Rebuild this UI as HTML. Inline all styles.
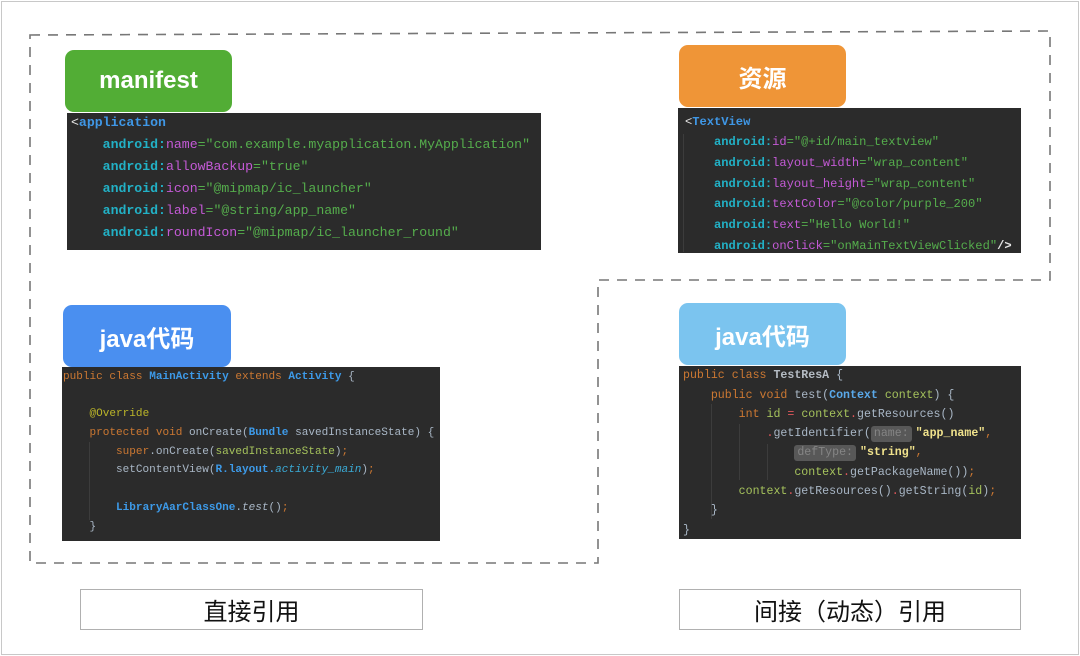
<!DOCTYPE html>
<html>
<head>
<meta charset="utf-8">
<style>
  html,body{margin:0;padding:0;background:#fff;}
  body{width:1080px;height:656px;position:relative;overflow:hidden;font-family:"Liberation Sans","Noto Sans CJK SC",sans-serif;}
  .abs{position:absolute;}
  .code{position:absolute;background:#2b2b2b;}
  pre{position:absolute;margin:0;font-family:"Liberation Mono","DejaVu Sans Mono",monospace;color:#a9b7c6;white-space:pre;}
  .lbl{position:absolute;border-radius:9px;color:#fff;font-weight:bold;font-size:24px;display:flex;align-items:center;justify-content:center;font-family:"Liberation Sans","Noto Sans CJK SC",sans-serif;}
  .cap{position:absolute;border:1px solid #b0b0b0;background:#fff;font-size:24px;color:#111;display:flex;align-items:center;justify-content:center;font-family:"Liberation Sans","Noto Sans CJK SC",sans-serif;}
  /* xml colors */
  .w{color:#e6e6e6}
  .tg{color:#3f97e6;font-weight:bold}
  .an{color:#22b1c6;font-weight:bold}
  .at{color:#c45ad6}
  .v{color:#55ad4c}
  /* java colors */
  .k{color:#cc7832}
  .c{color:#3d9ae8;font-weight:bold}
  .an2{color:#bbb529}
  .g{color:#a5c25c}
  .it{color:#3aa9d4;font-style:italic}
  .iti{font-style:italic}
  .r{color:#e0575b}
  .s{color:#f0e28c;font-weight:bold}
  .h{display:inline-block;background:#585858;color:#858585;border-radius:3px;padding:0 3px;line-height:16px;margin-right:4px;}
  .guide{position:absolute;width:1px;background:#3c3c3c;}
</style>
</head>
<body>
<!-- outer border -->
<div class="abs" style="left:1px;top:1px;width:1076px;height:652px;border:1px solid #c8c8c8;"></div>

<!-- dashed outline -->
<svg class="abs" style="left:0;top:0" width="1080" height="656">
  <polygon points="30,35 1050,31 1050,280 598,280 598,563 30,563" fill="none" stroke="#777" stroke-width="1.6" stroke-dasharray="10 8"/>
</svg>

<!-- manifest -->
<div class="lbl" style="left:65px;top:50px;width:167px;height:62px;background:#52ad35;">manifest</div>
<div class="code" style="left:67px;top:113px;width:474px;height:137px;"></div>
<pre style="left:71px;top:112px;font-size:13.2px;line-height:22px;"><span class="w">&lt;</span><span class="tg">application</span>
    <span class="an">android:</span><span class="at">name</span><span class="v">="com.example.myapplication.MyApplication"</span>
    <span class="an">android:</span><span class="at">allowBackup</span><span class="v">="true"</span>
    <span class="an">android:</span><span class="at">icon</span><span class="v">="@mipmap/ic_launcher"</span>
    <span class="an">android:</span><span class="at">label</span><span class="v">="@string/app_name"</span>
    <span class="an">android:</span><span class="at">roundIcon</span><span class="v">="@mipmap/ic_launcher_round"</span></pre>

<!-- 资源 -->
<div class="lbl" style="left:679px;top:45px;width:167px;height:62px;background:#ef9537;">资源</div>
<div class="code" style="left:678px;top:108px;width:343px;height:145px;"></div>
<div class="guide" style="left:683px;top:134px;height:118px;"></div>
<pre style="left:685px;top:111.7px;font-size:12.1px;line-height:20.67px;"><span class="w">&lt;</span><span class="tg">TextView</span>
    <span class="an">android:</span><span class="at">id</span><span class="v">="@+id/main_textview"</span>
    <span class="an">android:</span><span class="at">layout_width</span><span class="v">="wrap_content"</span>
    <span class="an">android:</span><span class="at">layout_height</span><span class="v">="wrap_content"</span>
    <span class="an">android:</span><span class="at">textColor</span><span class="v">="@color/purple_200"</span>
    <span class="an">android:</span><span class="at">text</span><span class="v">="Hello World!"</span>
    <span class="an">android:</span><span class="at">onClick</span><span class="v">="onMainTextViewClicked"</span><span class="w" style="font-weight:bold">/&gt;</span></pre>

<!-- java left -->
<div class="lbl" style="left:63px;top:305px;width:168px;height:62px;background:#4a8ff0;">java代码</div>
<div class="code" style="left:62px;top:367px;width:378px;height:174px;"></div>
<div class="guide" style="left:89px;top:442px;height:78px;"></div>
<pre style="left:63px;top:367.6px;font-size:11.06px;line-height:18.75px;"><span class="k">public class </span><span class="c">MainActivity</span><span class="k"> extends </span><span class="c">Activity</span> {

    <span class="an2">@Override</span>
    <span class="k">protected void </span>onCreate(<span class="c">Bundle</span> savedInstanceState) {
        <span class="k">super</span>.onCreate(<span class="g">savedInstanceState</span>)<span class="k">;</span>
        setContentView(<span class="c">R.layout.</span><span class="it">activity_main</span>)<span class="k">;</span>

        <span class="c">LibraryAarClassOne</span>.<span class="iti">test</span>()<span class="k">;</span>
    }</pre>

<!-- java right -->
<div class="lbl" style="left:679px;top:303px;width:167px;height:62px;background:#7bc4ef;">java代码</div>
<div class="code" style="left:679px;top:366px;width:342px;height:173px;"></div>
<div class="guide" style="left:711px;top:404px;height:115px;"></div>
<div class="guide" style="left:739px;top:424px;height:56px;"></div>
<div class="guide" style="left:767px;top:444px;height:36px;"></div>
<pre style="left:683px;top:366.3px;font-size:11.6px;line-height:19.3px;"><span class="k">public class </span><span style="color:#b5bcc4;font-weight:bold">TestResA</span> {
    <span class="k">public void </span>test(<span class="c" style="color:#5aa9ea">Context</span> <span class="g">context</span>) {
        <span class="k">int </span><span class="g">id</span> <span class="r">=</span> <span class="g">context</span><span class="r">.</span>getResources()
            <span class="r">.</span>getIdentifier(<span class="h">name:</span><span class="s">"app_name"</span><span class="k">,</span>
                <span class="h">defType:</span><span class="s">"string"</span><span class="k">,</span>
                <span class="g">context</span><span class="r">.</span>getPackageName())<span class="k">;</span>
        <span class="g">context</span><span class="r">.</span>getResources()<span class="r">.</span>getString(<span class="g">id</span>)<span class="k">;</span>
    }
}</pre>

<!-- captions -->
<div class="cap" style="left:80px;top:589px;width:341px;height:39px;">直接引用</div>
<div class="cap" style="left:679px;top:589px;width:340px;height:39px;">间接（动态）引用</div>
</body>
</html>
